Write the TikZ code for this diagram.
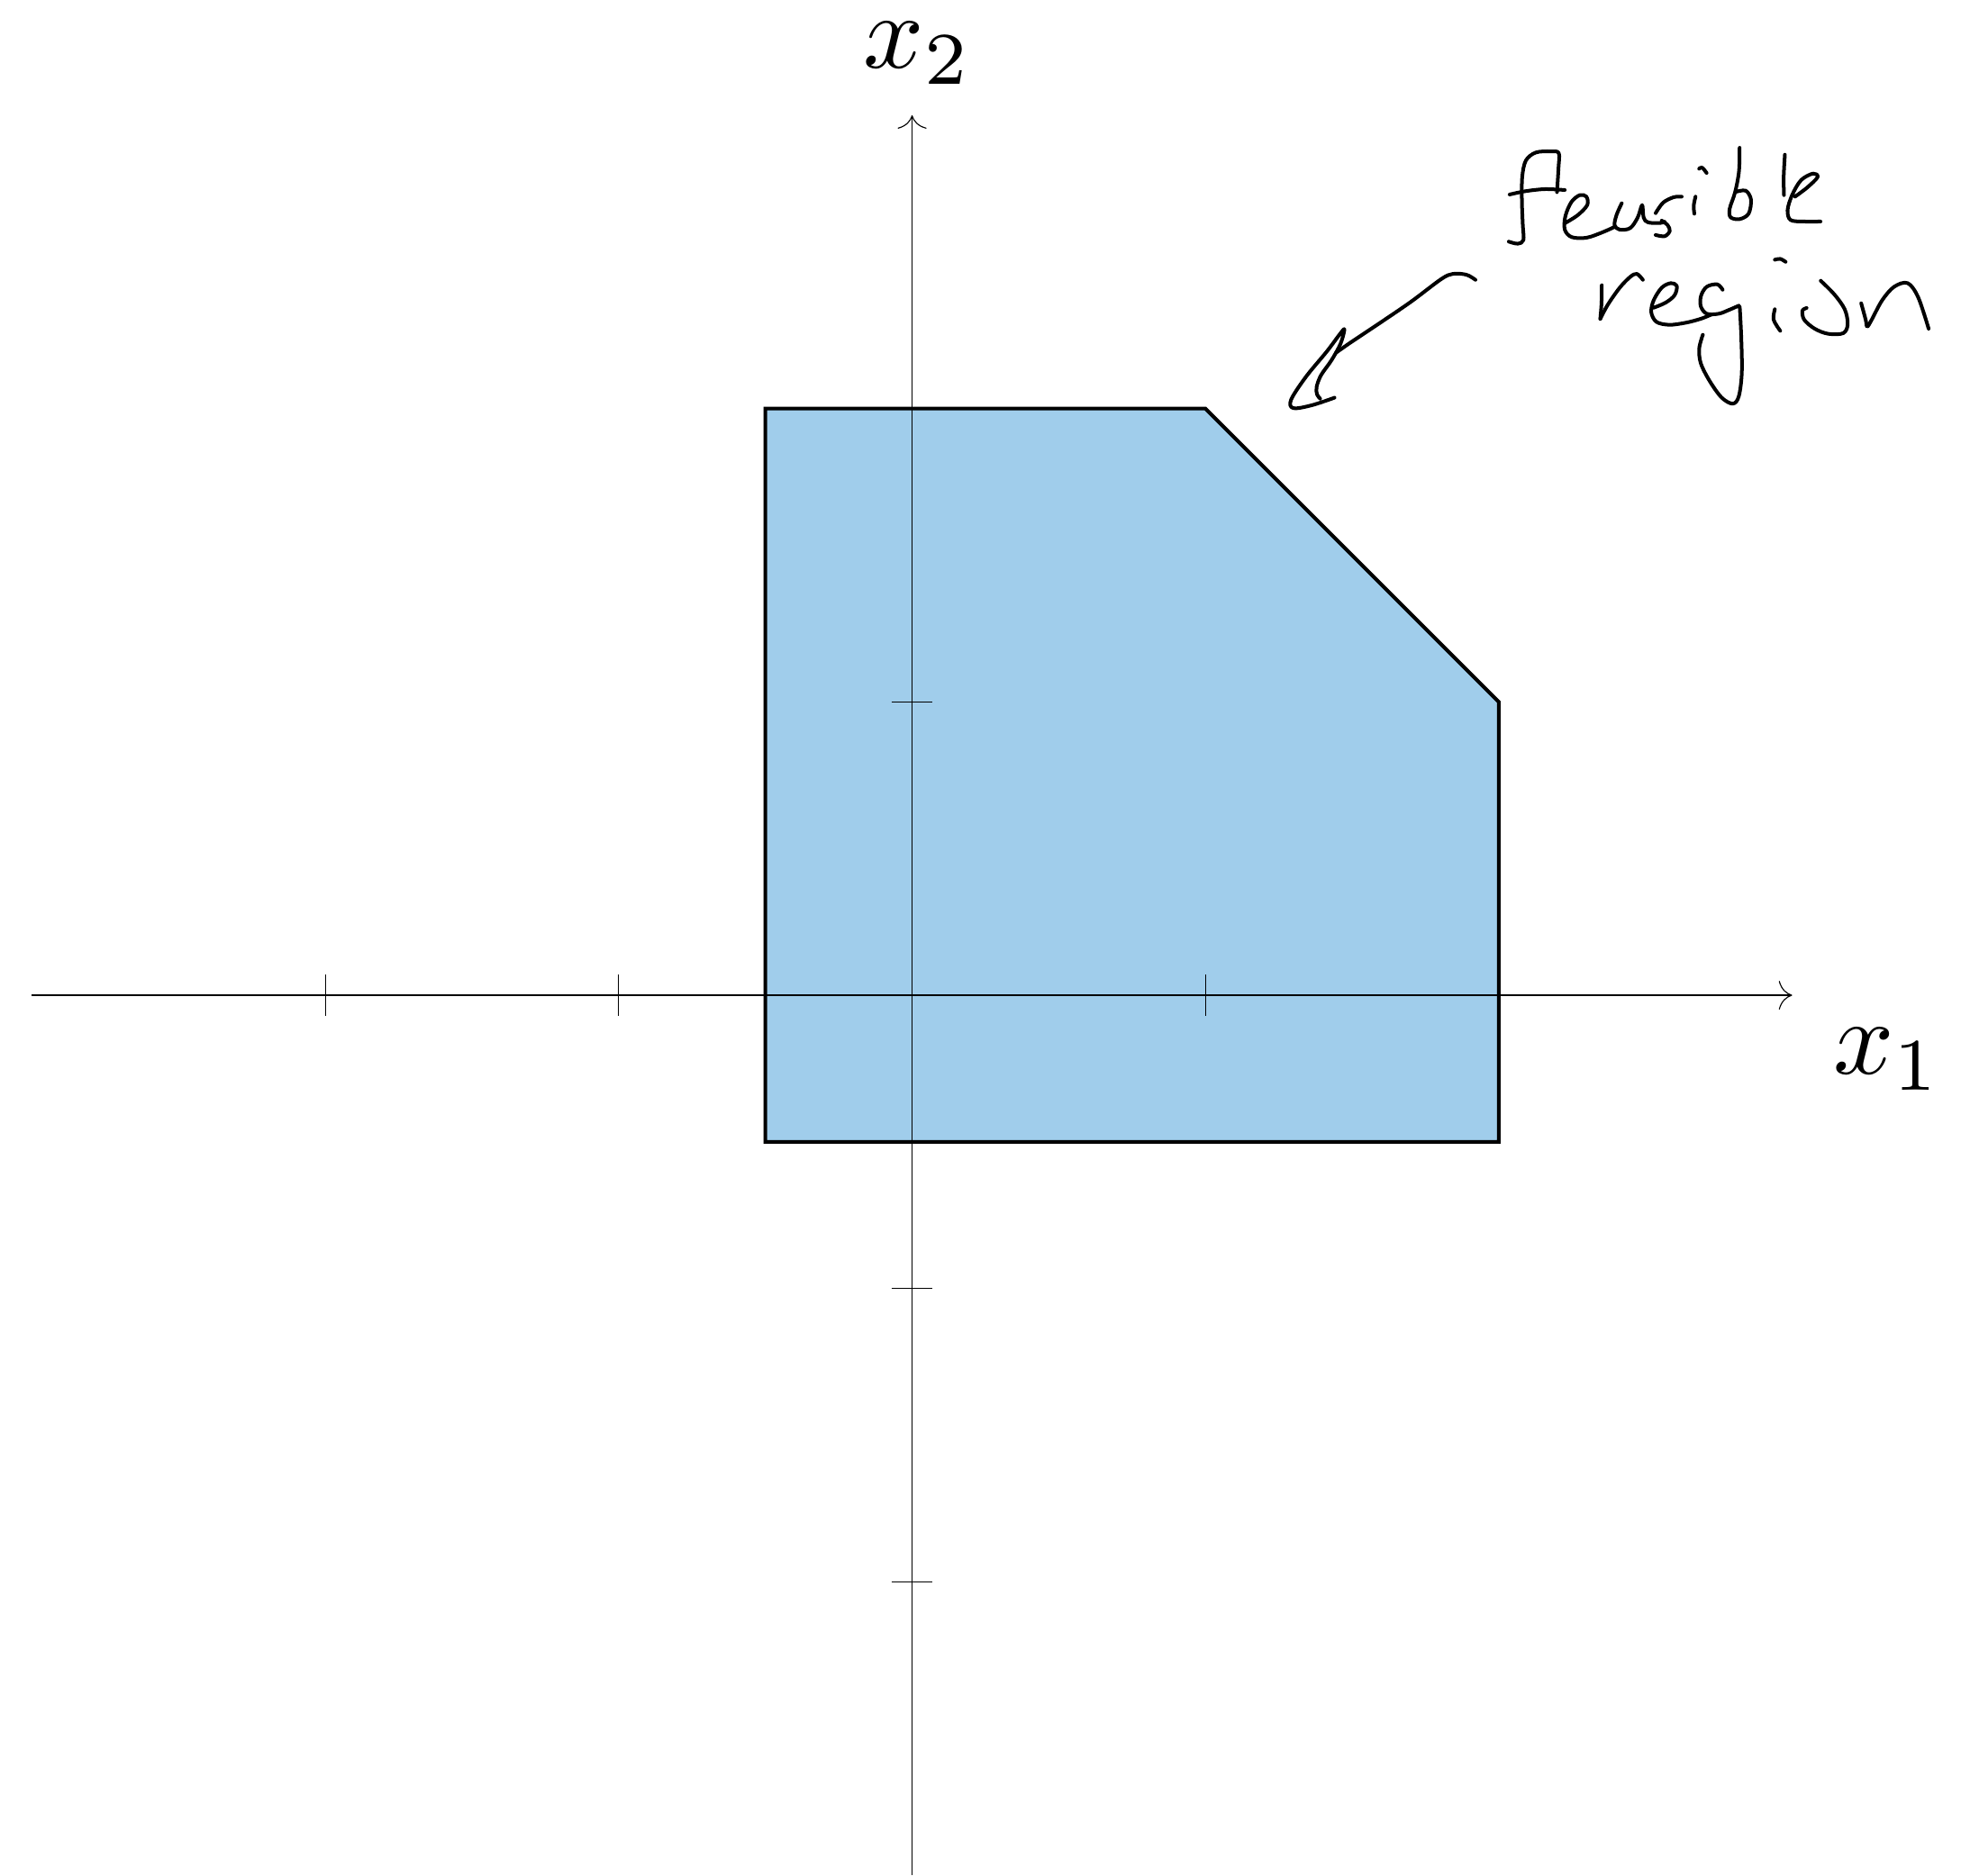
\documentclass[tikz,border=0pt]{standalone}
\usetikzlibrary{arrows.meta}
\definecolor{feas}{RGB}{160,205,235}
\begin{document}
\begin{tikzpicture}[
  axis/.style={line width=0.1pt, -{To[length=1.3pt,width=2.8pt]}},
  tickmark/.style={line width=0.1pt},
  region/.style={fill=feas, draw=black, line width=0.35pt, line join=miter},
  hand/.style={line width=0.35pt, line cap=round, line join=round},
  lbl/.style={inner sep=0pt, anchor=base west, scale=1.03},
  zoomed/.style={x=0.0010234cm, y=-0.0010234cm},
]
\useasboundingbox (-3.109,-3.0) rectangle (3.606,3.393);

% feasible region
\coordinate (p1) at (-0.5,2);
\coordinate (p2) at (1,2);
\coordinate (p3) at (2,1);
\coordinate (p4) at (2,-0.5);
\coordinate (p5) at (-0.5,-0.5);
\draw[region] (p1) -- (p2) -- (p3) -- (p4) -- (p5) -- cycle;

% axes
\coordinate (xs) at (-3,0);
\coordinate (xe) at (3,0);
\coordinate (ys) at (0,-3);
\coordinate (ye) at (0,3);
\draw[axis] (xs) -- (xe);
\draw[axis] (ys) -- (ye);
\foreach \t in {-2,-1,1,2} {
  \draw[tickmark] (\t,-0.07) -- (\t,0.07);
  \draw[tickmark] (-0.07,\t) -- (0.07,\t);
}

\node[lbl] (lx1) at (3.133,-0.270) {$x_1$};
\node[lbl] (lx2) at (-0.172,3.160) {$x_2$};

% handwritten "feasible"
\begin{scope}[shift={(1.9877cm,2.9322cm)}, zoomed]
  \draw[hand] plot[smooth, tension=0.55] coordinates {(45,355) (75,362) (94,350) (92,300) (89,220) (90,140) (102,85) (135,58) (185,54) (212,60) (211,110) (206,190)};
  \draw[hand] plot[smooth, tension=0.55] coordinates {(48,198) (100,187) (165,180) (232,183)};
  \draw[hand] plot[smooth, tension=0.55] coordinates {(230,295) (275,267) (307,233) (304,205) (282,200) (254,223) (234,270) (232,315) (255,340) (305,342) (360,323) (400,305)};
  \draw[hand] plot[smooth, tension=0.55] coordinates {(422,227) (405,265) (398,300) (415,315) (450,310) (475,275) (490,233) (495,275) (510,291) (550,293) (565,289)};
  \draw[hand] plot[smooth, tension=0.55] coordinates {(535,260) (560,225) (595,207) (622,205)};
  \draw[hand] plot[smooth, tension=0.55] coordinates {(555,285) (575,300) (582,320) (565,337) (535,333)};
  \draw[hand] plot[smooth, tension=0.55] coordinates {(680,112) (690,108) (705,126)};
  \draw[hand] plot[smooth, tension=0.55] coordinates {(668,205) (662,235) (664,262)};
  \draw[hand] plot[smooth, tension=0.55] coordinates {(815,42) (813,120) (800,190) (782,245) (785,274) (815,280) (845,262) (853,215) (835,185) (800,190)};
  \draw[hand] plot[smooth, tension=0.55] coordinates {(966,65) (962,140) (963,200)};
  \draw[hand] plot[smooth, tension=0.55] coordinates {(1000,205) (1040,175) (1075,140) (1060,128) (1020,150) (990,200) (975,250) (985,283) (1030,288) (1085,288)};
\end{scope}

% handwritten "region"
\begin{scope}[shift={(2.2948cm,2.5330cm)}, zoomed]
  \draw[hand] plot[smooth, tension=0.55] coordinates {(55,110) (54,170) (50,222)};
  \draw[hand] plot[smooth, tension=0.55] coordinates {(50,222) (75,175) (115,118) (150,82) (172,72) (192,92)};
  \draw[hand] plot[smooth, tension=0.55] coordinates {(228,185) (268,168) (298,143) (305,112) (285,103) (255,118) (228,160) (220,200) (237,232) (280,242) (335,235) (385,222) (420,208)};
  \draw[hand] plot[smooth, tension=0.55] coordinates {(458,125) (440,107) (405,115) (386,145) (385,180) (405,205) (445,205) (480,192) (512,178)};
  \draw[hand] plot[smooth, tension=0.55] coordinates {(515,182) (520,280) (522,400) (512,480) (492,505) (455,485) (415,430) (385,370) (380,320) (392,275)};
  \draw[hand] plot[smooth, tension=0.55] coordinates {(632,25) (650,22) (668,32)};
  \draw[hand] plot[smooth, tension=0.55] coordinates {(632,190) (628,225) (650,262)};
  \draw[hand] plot[smooth, tension=0.55] coordinates {(785,95) (830,140) (865,190) (875,240) (860,270) (810,272) (765,255) (730,225) (724,195) (738,186)};
  \draw[hand] plot[smooth, tension=0.55] coordinates {(920,170) (935,225) (940,248) (955,225) (990,160) (1030,115) (1075,103) (1110,150) (1145,255)};
\end{scope}

% handwritten arrow
\begin{scope}[shift={(1.2509cm,2.5023cm)}, zoomed]
  \draw[hand] plot[smooth, tension=0.55] coordinates {(655,62) (625,45) (580,42) (540,60) (440,135) (330,210) (240,270) (190,305)};
  \draw[hand] plot[smooth, tension=0.55] coordinates {(185,455) (110,480) (48,490) (40,462) (90,385) (160,300) (205,240) (218,228) (205,275) (175,330) (140,380) (125,420) (127,445) (137,458)};
\end{scope}
\end{tikzpicture}
\end{document}
